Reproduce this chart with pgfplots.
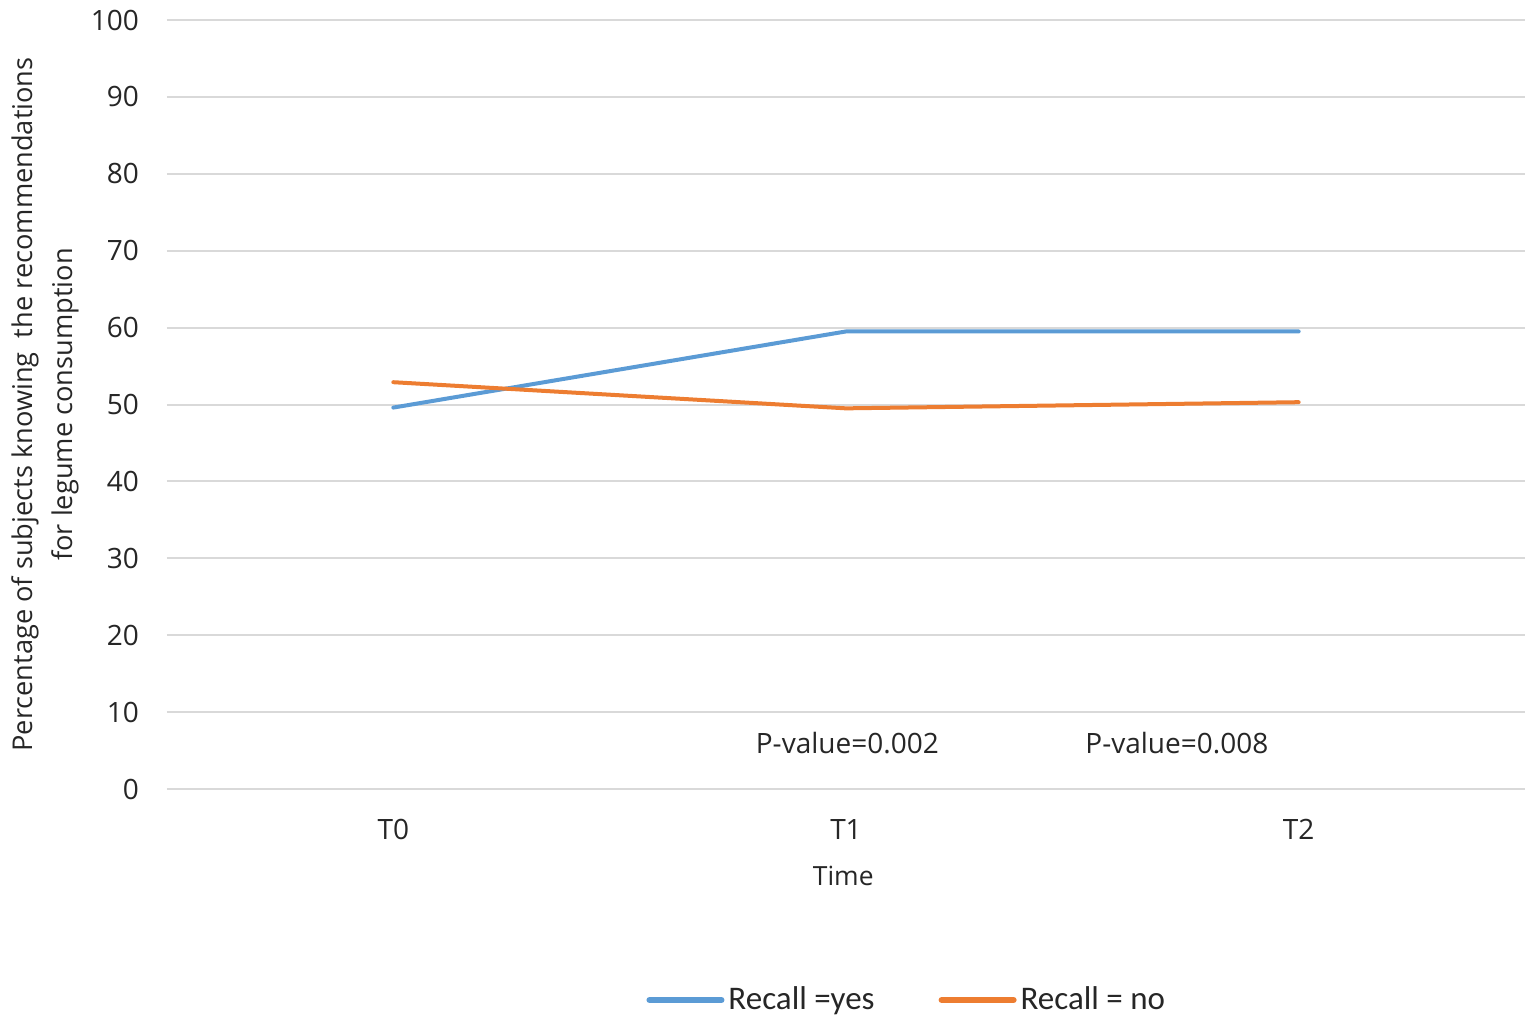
\documentclass[border=0pt]{standalone}
\usepackage{pgfplots}
\pgfplotsset{compat=1.18}
\usepackage{fontspec}
\setmainfont{Open Sans}
\newfontfamily\legfont{Carlito}
\definecolor{sblue}{HTML}{5B9BD5}
\definecolor{sorange}{HTML}{ED7D31}
\definecolor{grd}{HTML}{D9D9D9}
\definecolor{txt}{HTML}{262626}
\begin{document}
\begin{tikzpicture}
\begin{axis}[
  scale only axis,
  width=679pt, height=384.5pt,
  xmin=-0.5, xmax=2.5, ymin=0, ymax=100,
  xtick={0,1,2}, xticklabels={T0,T1,T2},
  ytick={0,10,...,100},
  axis line style={draw=none},
  major tick length=0pt,
  ymajorgrids, grid style={grd, line width=1pt},
  /pgf/number format/assume math mode=true,
  tick label style={font=\fontsize{14}{16}\selectfont, text=txt},
  xticklabel style={yshift=-11.5pt},
  yticklabel style={xshift=-10.5pt},
  xlabel={Time},
  ylabel={Percentage of subjects knowing\ \ the recommendations\\for legume consumption},
  every axis x label/.style={at={(axis description cs:0.498,0)}, anchor=center, yshift=-43.5pt, font=\fontsize{13.2}{15}\selectfont, text=txt},
  every axis y label/.style={at={(axis description cs:-0.0898,0.5)}, anchor=center, rotate=90, align=center, font=\fontsize{13.6}{20}\selectfont, text=txt},
  legend columns=2,
  legend style={at={(axis description cs:0.5455,-0.2744)}, anchor=center, draw=none, fill=none,
    font=\legfont\fontsize{16.5}{18}\selectfont, text=txt,
    /tikz/every even column/.append style={column sep=30pt}},
  legend image code/.code={\draw[#1, line width=3pt, line cap=round] (0pt,0pt) -- (36pt,0pt);},
  clip=false,
]
\addplot[sblue, line width=2pt, line cap=round] coordinates {(0,49.6) (1,59.5) (2,59.5)};
\addlegendentry{Recall =yes}
\addplot[sorange, line width=2pt, line cap=round] coordinates {(0,52.9) (1,49.5) (2,50.3)};
\addlegendentry{Recall = no}
\node[font=\fontsize{14}{16}\selectfont, text=txt] at (axis cs:1.003,6) {P-value=0.002};
\node[font=\fontsize{14}{16}\selectfont, text=txt] at (axis cs:1.731,6) {P-value=0.008};
\end{axis}
\pgfresetboundingbox
\useasboundingbox (-83.5pt,-120pt) rectangle (684pt,394.5pt);
\end{tikzpicture}
\end{document}
